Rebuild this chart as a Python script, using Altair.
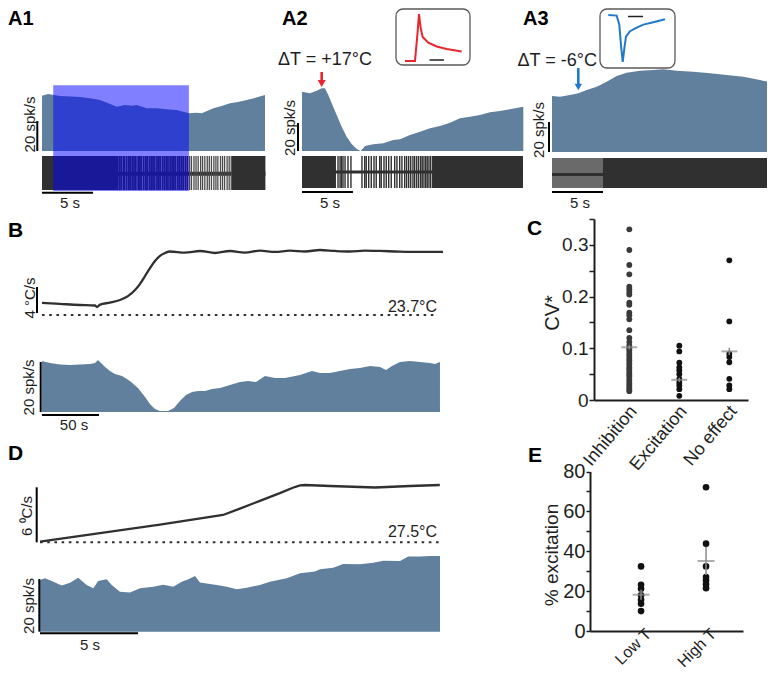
import altair as alt
import pandas as pd

FONT = "Liberation Sans"
AREA = "#60809d"
TRACE = "#303030"
INK = "#1e1e1e"
RED = "#e8262d"
BLUE = "#1f7acb"
MEANC = "#8c8c8c"

# ---------------- A1 ----------------
a1_t = [0.0, 0.6, 1.76, 2.8, 3.73, 4.7, 5.69, 6.5, 7.32, 8.14, 8.8, 9.28, 10.26, 11.25,
        12.2, 13.2, 14.41, 15.17, 15.66, 16.8, 17.6, 18.43, 19.2, 20.07, 21.0, 21.86]
a1_rate = [36.9, 38.0, 36.7, 36.4, 36.0, 35.2, 34.0, 31.8, 29.5, 30.7, 30.2, 30.7, 28.5, 28.5,
           27.9, 27.3, 25.1, 25.5, 25.1, 28.5, 30.0, 31.8, 32.6, 34.0, 35.6, 37.3]
a1_light_on = [1.1]
a1_light_off = [14.4]
a1_dense_start = [0.0, 18.6]
a1_dense_end = [7.35, 21.9]
a1_spikes = [7.4, 7.58, 7.75, 7.97, 8.1, 8.31, 8.52, 8.66, 8.85, 9.02, 9.2, 9.43, 9.6, 9.74,
             9.96, 10.15, 10.3, 10.52, 10.7, 10.88, 11.05, 11.27, 11.45, 11.6, 11.82, 12.0,
             12.18, 12.35, 12.56, 12.75, 12.93, 13.1, 13.32, 13.5, 13.68, 13.85, 14.06, 14.25,
             14.47, 14.65, 14.9, 15.1, 15.31, 15.55, 15.74, 15.96, 16.2, 16.4, 16.61, 16.85,
             17.05, 17.24, 17.5, 17.7, 17.9, 18.15, 18.35, 18.55]

# ---------------- A2 ----------------
a2_t = [0, 0.78, 1.44, 1.93, 2.25, 2.58, 2.91, 3.4, 3.89, 4.38, 4.87, 5.36, 5.75, 6.18, 6.99,
        7.97, 8.95, 9.61, 10.59, 11.57, 12.55, 13.53, 14.51, 15.49, 16.47, 17.45, 18.43,
        19.41, 20.39, 21.7]
a2_rate = [42.4, 41.2, 43.1, 44.8, 44.8, 40.0, 34.1, 25.7, 17.4, 10.2, 5.0, 1.4, 0.0, 3.6, 4.8,
           5.5, 7.9, 8.4, 11.4, 13.8, 16.2, 17.9, 20.2, 23.4, 24.5, 25.7, 27.6, 28.6, 29.8, 31.6]
a2_arrow_t = [1.93]
a2_dense_start = [0.0, 12.75]
a2_dense_end = [3.33, 21.67]
a2_spikes = [3.53, 3.73, 3.87, 4.02, 4.22, 4.51, 4.8, 5.88, 6.15, 6.30, 6.54, 6.79, 7.06,
             7.28, 7.62, 7.77, 8.04, 8.26, 8.50, 8.75, 9.09, 9.31, 9.58, 9.80, 10.07, 10.26,
             10.46, 10.66, 10.88, 11.05, 11.25, 11.44, 11.64, 11.79, 11.96, 12.13, 12.28,
             12.45, 12.62]
a2_inset_t = [0, 1.75, 2.2, 2.46, 2.75, 3.1, 4.09, 5.56, 7.32, 9.95]
a2_inset_v = [0, 0, 0.6, 1.0, 0.7, 0.513, 0.389, 0.309, 0.254, 0.204]

# ---------------- A3 ----------------
a3_t = [0, 0.78, 1.76, 2.58, 3.4, 4.38, 5.36, 6.34, 7.32, 8.63, 9.93, 10.91, 12.22, 13.85,
        15.49, 17.13, 18.76, 20.39, 21.86]
a3_rate = [37.3, 36.9, 38.0, 39.1, 41.3, 43.5, 46.9, 50.7, 52.9, 54.2, 54.7, 55.1, 54.2, 53.5,
           52.5, 51.3, 50.2, 48.0, 45.8]
a3_arrow_t = [2.58]
a3_sparse_start = [0.0]
a3_sparse_end = [5.0]
a3_dense_start = [5.0]
a3_dense_end = [21.9]
a3_inset_t = [0, 1.47, 1.93, 2.23, 2.53, 2.81, 3.1, 3.81, 4.98, 6.14, 7.89, 9.95]
a3_inset_v = [0, -0.013, -0.204, -0.643, -1.0, -0.714, -0.458, -0.344, -0.267, -0.204,
              -0.153, -0.09]

# ---------------- B ----------------
b_temp_t = [0, 15.8, 33.3, 46.5, 48.2, 50.9, 59.6, 68.4, 75.4, 81.6, 86, 90.4, 94.7, 99.1,
            103.5, 107.9, 112.3, 125.4, 138.6, 151.8, 164.9, 178, 191.2, 204.4, 217.5, 230.7,
            243.9, 257, 270, 283.3, 296.5, 309.6, 322.8, 336, 351.8]
b_temp = [25.55, 25.4, 25.24, 25.16, 24.93, 25.3, 25.6, 26.0, 26.6, 27.55, 28.5, 29.7, 30.9,
          32.0, 32.8, 33.24, 33.47, 33.3, 33.55, 33.24, 33.55, 33.3, 33.6, 33.4, 33.6, 33.47,
          33.7, 33.55, 33.47, 33.6, 33.55, 33.47, 33.4, 33.4, 33.4]
b_ref_temp = 23.7
b_t = [0, 7, 15.8, 24.6, 33.3, 42.1, 46.5, 49.1, 51.8, 55.3, 59.6, 64, 70.2, 77.2, 84.2, 90.4,
       94.7, 99.1, 103.5, 110.5, 115.8, 121, 126.3, 131.6, 136.8, 143, 149.1, 156.1, 164.9,
       173.7, 180.7, 187.7, 195.6, 204.4, 213.2, 226.3, 236.8, 243.9, 252.6, 261.4, 270.2,
       278.9, 287.7, 296.5, 301.8, 307, 314, 322.8, 331.6, 340.4, 344.7, 349.1]
b_rate = [20.4, 19.6, 19.0, 18.8, 19.0, 19.2, 19.6, 20.8, 19.6, 18.0, 16.4, 15.2, 14.4, 12.4,
          9.6, 6.0, 3.2, 1.2, 0.4, 0.4, 1.6, 4.4, 6.8, 8.0, 8.4, 8.4, 9.2, 9.6, 10.8, 12.0,
          12.4, 12.0, 14.4, 13.6, 13.6, 14.8, 16.4, 15.6, 15.6, 16.4, 17.2, 17.6, 18.4, 18.0,
          16.8, 18.4, 20.0, 20.4, 20.0, 19.6, 19.2, 20.0]

# ---------------- C ----------------
c_cats = ["Inhibition", "Excitation", "No effect"]
c_inhib = [0.330, 0.290, 0.261, 0.243, 0.219, 0.214, 0.209, 0.204, 0.188, 0.184, 0.169, 0.164,
           0.156, 0.135, 0.120, 0.112, 0.105, 0.100, 0.096, 0.091, 0.086, 0.081, 0.077, 0.072,
           0.068, 0.063, 0.059, 0.054, 0.050, 0.046, 0.041, 0.037, 0.033, 0.029, 0.025, 0.021,
           0.017]
c_excit = [0.105, 0.094, 0.072, 0.063, 0.057, 0.050, 0.041, 0.034, 0.028, 0.021, 0.008]
c_noeff = [0.270, 0.152, 0.089, 0.083, 0.073, 0.041, 0.028, 0.021]
c_mean = [0.102, 0.039, 0.094]
c_sem = [0.004, 0.004, 0.007]

# ---------------- D ----------------
d_temp_t = [0, 3.06, 6.12, 9.34, 10.2, 11.22, 12.24, 12.9, 13.27, 13.52, 14.8, 17.1, 18.88, 20.4]
d_temp = [27.57, 28.5, 29.44, 30.48, 31.18, 32.02, 32.86, 33.45, 33.7, 33.75, 33.64, 33.48,
          33.64, 33.75]
d_ref_temp = 27.5
d_t = [0, 0.26, 0.68, 1.11, 1.53, 1.95, 2.38, 2.72, 2.97, 3.4, 3.66, 4.08, 4.59, 5.1, 5.78,
       6.29, 6.8, 7.23, 7.57, 7.91, 8.16, 8.67, 9.02, 9.53, 10.04, 10.55, 11.22, 11.73, 12.59,
       13.27, 14.03, 14.29, 14.96, 15.47, 16.33, 17.0, 17.52, 18.37, 18.79, 19.39, 19.9, 20.41]
d_rate = [19.6, 20.3, 19.0, 17.5, 18.6, 20.5, 17.7, 16.5, 19.2, 19.9, 17.7, 15.2, 14.9, 16.5,
          17.1, 17.8, 17.1, 19.0, 19.9, 21.1, 18.7, 18.1, 17.7, 17.1, 16.1, 16.7, 17.7, 19.0,
          20.3, 22.2, 22.8, 23.7, 24.3, 25.7, 25.6, 26.2, 26.9, 26.8, 28.5, 28.5, 28.7, 28.7]

# ---------------- E ----------------
e_cats = ["Low T", "High T"]
e_low = [32.4, 23.2, 21.2, 17.9, 15.7, 13.7, 10.0]
e_high = [72.1, 43.8, 32.4, 27.1, 25.4, 23.4, 21.5]
e_mean = [18.2, 35.1]
e_sem = [2.5, 7.0]


# ---------------- helpers ----------------
def px(v):
    return v - 8


def lin(domain, rng):
    return alt.Scale(domain=domain, range=[px(r) for r in rng], nice=False, zero=False)


def xd(v, s):
    return alt.XDatum(v, scale=s, axis=None)


def yd(v, s):
    return alt.YDatum(v, scale=s, axis=None)


ONE = pd.DataFrame({"k": [0]})
layers = []


def text(s, x, y, size, weight="normal", angle=0, align="left", baseline="alphabetic",
         color=INK):
    layers.append(alt.Chart(ONE).mark_text(
        text=s, font=FONT, fontSize=size, fontWeight=weight, angle=angle, align=align,
        baseline=baseline, color=color).encode(x=alt.value(px(x)), y=alt.value(px(y))))


def area(t, r, sx, sy):
    df = pd.DataFrame({"t": t, "r": r})
    layers.append(alt.Chart(df).mark_area(color=AREA).encode(
        x=alt.X("t:Q", scale=sx, axis=None), y=alt.Y("r:Q", scale=sy, axis=None),
        y2=alt.Y2Datum(0)))


def line(t, v, sx, sy, color=TRACE, width=2.3, interp="linear"):
    df = pd.DataFrame({"t": t, "v": v})
    layers.append(alt.Chart(df).mark_line(color=color, strokeWidth=width,
                                          interpolate=interp).encode(
        x=alt.X("t:Q", scale=sx, axis=None), y=alt.Y("v:Q", scale=sy, axis=None)))


def blocks(starts, ends, sx, sy, color=TRACE, opacity=1.0):
    df = pd.DataFrame({"s": starts, "e": ends})
    layers.append(alt.Chart(df).mark_rect(color=color, opacity=opacity).encode(
        x=alt.X("s:Q", scale=sx, axis=None), x2="e:Q", y=yd(-1, sy), y2=alt.Y2Datum(1)))


def spikes(times, sx, sy, width=1.4, split=None, width2=None, color2=None):
    df = pd.DataFrame({"t": times})
    enc = dict(x=alt.X("t:Q", scale=sx, axis=None), y=yd(-1, sy), y2=alt.Y2Datum(1))
    if split is not None:
        enc["strokeWidth"] = alt.condition(alt.datum.t < split, alt.value(width),
                                           alt.value(width2))
        enc["color"] = alt.condition(alt.datum.t < split, alt.value(TRACE),
                                     alt.value(color2))
        layers.append(alt.Chart(df).mark_rule().encode(**enc))
    else:
        layers.append(alt.Chart(df).mark_rule(color=TRACE, strokeWidth=width).encode(**enc))


def hline(x0, x1, yv, sx, sy, width=2.0, color=TRACE, dash=None):
    kw = dict(color=color, strokeWidth=width)
    if dash is not None:
        kw["strokeDash"] = dash
    layers.append(alt.Chart(ONE).mark_rule(**kw).encode(
        x=xd(x0, sx), x2=alt.X2Datum(x1), y=yd(yv, sy)))


def vbar(xref, y0, y1, sy):
    layers.append(alt.Chart(ONE).mark_rule(color="black", strokeWidth=2).encode(
        x=alt.value(px(xref)), y=yd(y0, sy), y2=alt.Y2Datum(y1)))


def hbar(x0, x1, sx, yref, width=2, color="black"):
    layers.append(alt.Chart(ONE).mark_rule(color=color, strokeWidth=width).encode(
        x=xd(x0, sx), x2=alt.X2Datum(x1), y=alt.value(px(yref))))


def arrow(tlist, sx, color, y0, y1, yhead, size):
    df = pd.DataFrame({"t": tlist})
    layers.append(alt.Chart(df).mark_rule(color=color, strokeWidth=2.6).encode(
        x=alt.X("t:Q", scale=sx, axis=None), y=alt.value(px(y0)), y2=alt.value(px(y1))))
    layers.append(alt.Chart(df).mark_point(shape="triangle-down", filled=True, color=color,
                                           size=size, opacity=1).encode(
        x=alt.X("t:Q", scale=sx, axis=None), y=alt.value(px(yhead))))


def box(x0, x1, y0, y1):
    layers.append(alt.Chart(ONE).mark_rect(fill="white", stroke="#5a5a5a", strokeWidth=1.3,
                                           cornerRadius=7).encode(
        x=alt.value(px(x0)), x2=alt.value(px(x1)), y=alt.value(px(y0)), y2=alt.value(px(y1))))


# ---------------- scales (panel placement) ----------------
A1X = lin([0, 21.9], [42, 265.4]); A1R = lin([0, 20], [151, 121]); A1S = lin([-1, 1], [190, 156])
A2X = lin([0, 21.7], [302, 523.3]); A2R = lin([0, 20], [151, 123]); A2S = lin([-1, 1], [188, 156])
A3X = lin([0, 21.9], [552, 775.4]); A3R = lin([0, 20], [152, 122]); A3S = lin([-1, 1], [188, 158])
I2X = lin([0, 10], [405, 462]); I2Y = lin([0, 1], [61, 14])
I3X = lin([0, 10], [608.3, 665.3]); I3Y = lin([-1, 0], [62, 15])
BX = lin([0, 350], [42, 441]); BT = lin([23.7, 33.7], [315, 250]); BR = lin([0, 20], [412, 362])
DX = lin([0, 20.4], [40, 439.8]); DT = lin([27.5, 33.5], [542.3, 487.3]); DR = lin([0, 20], [631.7, 579])
CX = alt.Scale(type="point", domain=c_cats, range=[px(594), px(748)], padding=0.54, align=0.654)
CY = lin([0, 0.35], [400, 219])
EX = alt.Scale(type="point", domain=e_cats, range=[px(590), px(743)], padding=0.677, align=0.58)
EY = lin([0, 80], [631, 471.5])

# ---------------- A1 ----------------
area(a1_t, a1_rate, A1X, A1R)
hline(0, 21.9, -0.05, A1X, A1S, width=4)
blocks(a1_dense_start, a1_dense_end, A1X, A1S)
spikes(a1_spikes, A1X, A1S, width=1.8, split=14.4, width2=1.3, color2="#4a4a4a")
layers.append(alt.Chart(pd.DataFrame({"s": a1_light_on, "e": a1_light_off})).mark_rect(
    color="#0000ff", opacity=0.5).encode(
    x=alt.X("s:Q", scale=A1X, axis=None), x2="e:Q",
    y=alt.value(px(85.3)), y2=alt.value(px(191))))
vbar(37.3, 0, 20, A1R)
hbar(0, 5, A1X, 192.7)

# ---------------- A2 ----------------
area(a2_t, a2_rate, A2X, A2R)
hline(0, 21.67, 0, A2X, A2S, width=3)
blocks(a2_dense_start, a2_dense_end, A2X, A2S)
spikes(a2_spikes, A2X, A2S, width=1.4)
vbar(298, 0, 20, A2R)
hbar(0, 5, A2X, 192)
arrow(a2_arrow_t, A2X, RED, 72, 80, 83.5, 65)
box(396, 470, 9, 65)
line(a2_inset_t, a2_inset_v, I2X, I2Y, color=RED, width=2)
hbar(4.3, 6.85, I2X, 60, width=1.5, color="#222")

# ---------------- A3 ----------------
area(a3_t, a3_rate, A3X, A3R)
blocks(a3_sparse_start, a3_sparse_end, A3X, A3S, color="#6a6a6a")
hline(0, 21.9, -0.1, A3X, A3S, width=3)
blocks(a3_dense_start, a3_dense_end, A3X, A3S)
vbar(549, 0, 20, A3R)
hbar(0, 5, A3X, 192)
arrow(a3_arrow_t, A3X, BLUE, 68, 84, 87, 55)
box(600, 675, 9, 68)
line(a3_inset_t, a3_inset_v, I3X, I3Y, color=BLUE, width=2)
hbar(3.46, 6.09, I3X, 16.5, width=1.5, color="#222")

# ---------------- B ----------------
line(b_temp_t, b_temp, BX, BT, interp="monotone")
hline(0, 347, b_ref_temp, BX, BT, width=2, dash=[2.6, 4.6])
vbar(37, 24, 28, BT)
area(b_t, b_rate, BX, BR)
vbar(40.7, 0, 20, BR)
hbar(0, 50, BX, 415)

# ---------------- D ----------------
line(d_temp_t, d_temp, DX, DT)
hline(0, 20.4, d_ref_temp, DX, DT, width=2, dash=[2.6, 4.6])
vbar(36.7, 27.5, 33.5, DT)
area(d_t, d_rate, DX, DR)
vbar(39.3, 0, 20, DR)
hbar(0, 5, DX, 633.3)

# ---------------- C ----------------
c_df = pd.DataFrame({
    "cat": ["Inhibition"] * len(c_inhib) + ["Excitation"] * len(c_excit)
           + ["No effect"] * len(c_noeff),
    "v": c_inhib + c_excit + c_noeff})
c_stat = pd.DataFrame({"cat": c_cats, "m": c_mean,
                       "lo": [m - s for m, s in zip(c_mean, c_sem)],
                       "hi": [m + s for m, s in zip(c_mean, c_sem)]})
c_xaxis = alt.Axis(orient="bottom", offset=px(400) - 664, title=None, ticks=False,
                   labelAngle=-50, labelAlign="right", labelBaseline="middle",
                   labelFont=FONT, labelFontSize=18, labelColor=INK, labelPadding=8,
                   labelOffset=4, domainColor=INK, domainWidth=2, grid=False)
c_yaxis = alt.Axis(orient="left", offset=-px(594), title=None,
                   values=[0, 0.05, 0.1, 0.15, 0.2, 0.25, 0.3, 0.35],
                   labelExpr="indexof([0, 0.1, 0.2, 0.3], datum.value) >= 0 ? "
                             "(datum.value == 0 ? '0' : format(datum.value, '.1f')) : ''",
                   tickSize=5, tickWidth=1.5, tickColor=INK, domainColor=INK, domainWidth=2,
                   labelFont=FONT, labelFontSize=19, labelColor=INK, labelPadding=1,
                   grid=False)
layers.append(alt.Chart(c_df).mark_circle(size=34, opacity=1).encode(
    x=alt.X("cat:N", scale=CX, axis=c_xaxis),
    y=alt.Y("v:Q", scale=CY, axis=c_yaxis),
    color=alt.condition(alt.datum.cat == "Inhibition", alt.value("#3a3a3a"),
                        alt.value("#111111"))))
layers.append(alt.Chart(c_stat).mark_rule(color=MEANC, strokeWidth=1.5).encode(
    x=alt.X("cat:N", scale=CX, axis=None), y=alt.Y("lo:Q", scale=CY, axis=None), y2="hi:Q"))
layers.append(alt.Chart(c_stat).mark_tick(color=MEANC, size=16, thickness=2).encode(
    x=alt.X("cat:N", scale=CX, axis=None), y=alt.Y("m:Q", scale=CY, axis=None)))

# ---------------- E ----------------
e_df = pd.DataFrame({"cat": ["Low T"] * len(e_low) + ["High T"] * len(e_high),
                     "v": e_low + e_high})
e_stat = pd.DataFrame({"cat": e_cats, "m": e_mean,
                       "lo": [m - s for m, s in zip(e_mean, e_sem)],
                       "hi": [m + s for m, s in zip(e_mean, e_sem)]})
e_xaxis = alt.Axis(orient="bottom", offset=px(631) - 664, title=None, ticks=False,
                   labelAngle=-45, labelAlign="right", labelBaseline="middle",
                   labelFont=FONT, labelFontSize=16, labelColor=INK, labelPadding=0,
                   labelOffset=7, domainColor=INK, domainWidth=2, grid=False)
e_yaxis = alt.Axis(orient="left", offset=-px(590), title=None,
                   values=[0, 10, 20, 30, 40, 50, 60, 70, 80],
                   labelExpr="datum.value % 20 == 0 ? datum.label : ''",
                   tickSize=4, tickWidth=1.5, tickColor=INK, domainColor=INK, domainWidth=2,
                   labelFont=FONT, labelFontSize=20, labelColor=INK, labelPadding=1,
                   grid=False)
layers.append(alt.Chart(e_df).mark_circle(size=44, opacity=1, color="#111111").encode(
    x=alt.X("cat:N", scale=EX, axis=e_xaxis),
    y=alt.Y("v:Q", scale=EY, axis=e_yaxis)))
layers.append(alt.Chart(e_stat).mark_rule(color=MEANC, strokeWidth=1.5).encode(
    x=alt.X("cat:N", scale=EX, axis=None), y=alt.Y("lo:Q", scale=EY, axis=None), y2="hi:Q"))
layers.append(alt.Chart(e_stat).mark_tick(color=MEANC, size=17, thickness=2).encode(
    x=alt.X("cat:N", scale=EX, axis=None), y=alt.Y("m:Q", scale=EY, axis=None)))

# ---------------- texts ----------------
for lab, x in [("A1", 8), ("A2", 282), ("A3", 523)]:
    text(lab, x, 9, 20, weight="bold", color="black", baseline="top")
for lab, x, y in [("B", 8, 237), ("C", 527, 235), ("D", 8, 460), ("E", 528, 462)]:
    text(lab, x, y, 21, weight="bold", color="black")
text("ΔT = +17°C", 278, 65, 18)
text("ΔT = -6°C", 597, 66, 18, align="right")
for lab, x, y in [("20 spk/s", 30, 124.5), ("20 spk/s", 290, 128), ("20 spk/s", 539, 130),
                  ("4 °C/s", 30, 298), ("20 spk/s", 29, 387.5), ("6 ⁰C/s", 27, 516),
                  ("20 spk/s", 29, 606)]:
    text(lab, x, y, 15, angle=270, align="center", baseline="middle")
for lab, x, y in [("5 s", 70, 208), ("5 s", 330, 208), ("5 s", 580, 208), ("50 s", 74, 430),
                  ("5 s", 90, 650)]:
    text(lab, x, y, 15, align="center")
text("23.7°C", 437, 311.5, 16, align="right")
text("27.5°C", 437, 537, 16, align="right")
text("CV*", 553, 313, 20, angle=270, align="center", baseline="middle")
text("% excitation", 551.5, 555, 19, angle=270, align="center", baseline="middle")

chart = alt.layer(*layers).resolve_scale(
    x="independent", y="independent"
).properties(
    width=759, height=664, padding=0, autosize="none", background="white"
).configure_view(stroke=None)

chart.save("out.html", embed_options={"renderer": "svg", "actions": False})
